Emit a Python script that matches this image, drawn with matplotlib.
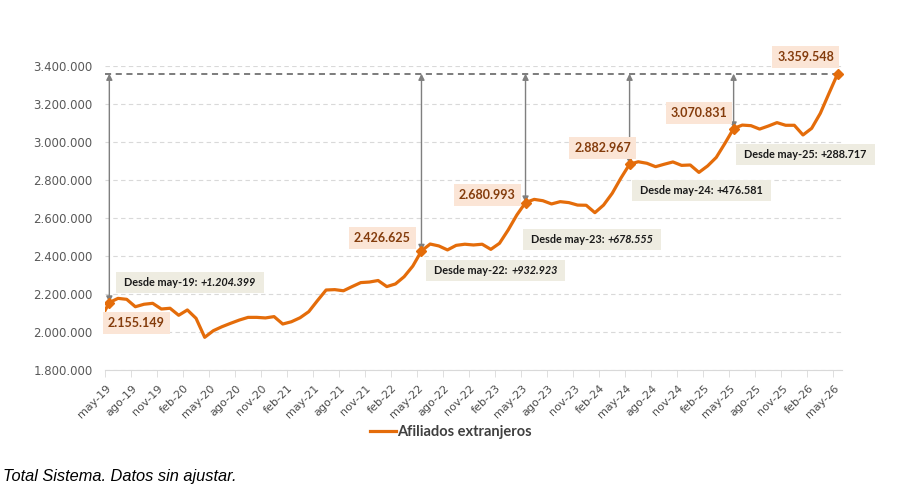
import numpy as np
import matplotlib
matplotlib.use("Agg")
import matplotlib.pyplot as plt
from matplotlib.ticker import FuncFormatter, MultipleLocator
from matplotlib.transforms import Bbox
from matplotlib.patches import Rectangle

# afiliados extranjeros (millones), abr-19 .. may-26
valores = [2.070,
           2.155149, 2.177, 2.172, 2.133, 2.146, 2.151, 2.121, 2.125, 2.088, 2.116,
           2.072, 1.972, 2.007, 2.028, 2.046, 2.063, 2.077, 2.077, 2.074, 2.081,
           2.042, 2.054, 2.075, 2.107, 2.165, 2.221, 2.223, 2.217, 2.239, 2.260,
           2.263, 2.271, 2.239, 2.253, 2.291, 2.347, 2.426625, 2.463, 2.453, 2.432,
           2.456, 2.462, 2.458, 2.462, 2.435, 2.467, 2.537, 2.616, 2.680993, 2.698,
           2.691, 2.674, 2.686, 2.681, 2.668, 2.667, 2.628, 2.668, 2.730, 2.810,
           2.882967, 2.896, 2.888, 2.870, 2.883, 2.895, 2.877, 2.879, 2.840, 2.874,
           2.919, 2.993, 3.070831, 3.089, 3.086, 3.068, 3.084, 3.102, 3.088, 3.088,
           3.037, 3.072, 3.151, 3.256, 3.359548]
meses = np.arange(-1, len(valores) - 1)   # 0 = may-19

etiquetas_x = ['may-19', 'ago-19', 'nov-19', 'feb-20', 'may-20', 'ago-20', 'nov-20',
               'feb-21', 'may-21', 'ago-21', 'nov-21', 'feb-22', 'may-22', 'ago-22',
               'nov-22', 'feb-23', 'may-23', 'ago-23', 'nov-23', 'feb-24', 'may-24',
               'ago-24', 'nov-24', 'feb-25', 'may-25', 'ago-25', 'nov-25', 'feb-26',
               'may-26']

# puntos destacados (indice de mes, valor, etiqueta)
hitos_mes = [0, 36, 48, 60, 72]
hitos_val = [2.155149, 2.426625, 2.680993, 2.882967, 3.070831]
hitos_txt = ['2.155.149', '2.426.625', '2.680.993', '2.882.967', '3.070.831']
desde_txt = ['Desde may-19:', 'Desde may-22:', 'Desde may-23:', 'Desde may-24:', 'Desde may-25:']
desde_dif = ['+1.204.399', '+932.923', '+678.555', '+476.581', '+288.717']
desde_cursiva = [True, True, True, False, False]
final_txt = '3.359.548'

# posiciones de las cajas (mes, valor)
pos_valor = [(3.1, 2.047), (31.5, 2.495), (43.6, 2.721), (56.9, 2.968), (68.0, 3.153)]
pos_desde = [(1.7, 2.258), (37.5, 2.326), (48.6, 2.489), (61.2, 2.747), (73.2, 2.932)]
pos_final = (80.3, 3.447)

naranja = '#E46C0A'
gris = '#7F7F7F'
marron = '#843C0C'
fuente = ['Lato', 'DejaVu Sans']

fig = plt.figure(figsize=(9.16, 4.95), dpi=100)
ax = fig.add_axes([105 / 916, 1 - 370 / 495, 737 / 916, 304 / 495])

ax.plot(meses, valores, color=naranja, lw=2.3, solid_joinstyle='round', zorder=3)

ax.set_xlim(-0.5, 84.5)
ax.set_ylim(1.8, 3.4)
ax.yaxis.set_major_locator(MultipleLocator(0.2))
ax.yaxis.set_major_formatter(FuncFormatter(lambda v, p: f"{v * 1e6:,.0f}".replace(',', '.')))
ax.yaxis.grid(True, ls=(0, (4, 3)), color='#D9D9D9', lw=0.8)
ax.set_axisbelow(True)
for s in ['top', 'right', 'left']:
    ax.spines[s].set_visible(False)
ax.spines['bottom'].set_color('#D9D9D9')

ax.set_xticks(np.arange(0, 85, 3))
ax.set_xticklabels(etiquetas_x)
ax.set_xticks(np.arange(-0.5, 85, 3), minor=True)
ax.tick_params(axis='x', which='major', length=0, pad=12, labelsize=8, labelcolor='#4D4D4D')
ax.tick_params(axis='x', which='minor', length=5, color='#D9D9D9')
ax.tick_params(axis='y', length=0, pad=9, labelsize=8.5, labelcolor='#595959')
plt.setp(ax.get_xticklabels(), rotation=45, ha='right', va='center', rotation_mode='anchor')

# linea horizontal del ultimo valor
ultimo = valores[-1]
ax.hlines(ultimo, -0.5, meses[-1], colors='#595959', linestyles=(0, (4, 3)), lw=1.1, zorder=2)

caja_valor = dict(boxstyle='square,pad=0.4', fc='#FBE5D6', ec='none')

pares = []
for k in range(len(hitos_mes)):
    m, v = hitos_mes[k], hitos_val[k]
    ax.annotate('', xy=(m, ultimo), xytext=(m, v),
                arrowprops=dict(arrowstyle='<|-|>', color=gris, lw=1, shrinkA=0, shrinkB=0,
                                mutation_scale=9), zorder=4)
    ax.plot(m, v, marker='D', ms=5, color=naranja, zorder=5)
    ax.text(pos_valor[k][0], pos_valor[k][1], hitos_txt[k], ha='center', va='center',
            fontsize=9, fontweight='bold', color=marron, family=fuente, bbox=caja_valor, zorder=6)
    t1 = ax.text(pos_desde[k][0], pos_desde[k][1], desde_txt[k], ha='left', va='center',
                 fontsize=7.8, fontweight='bold', color='#1A1A1A', family=fuente, zorder=7)
    t2 = ax.annotate(desde_dif[k], xy=(1, 0), xycoords=t1, xytext=(2.3, 0),
                     textcoords='offset points', ha='left', va='bottom', fontsize=7.8,
                     fontweight='bold', style='italic' if desde_cursiva[k] else 'normal',
                     color='#1A1A1A', family=fuente, zorder=7)
    pares.append((t1, t2))

ax.plot(meses[-1], ultimo, marker='D', ms=5, color=naranja, zorder=5, clip_on=False)
ax.text(pos_final[0], pos_final[1], final_txt, ha='center', va='center', fontsize=9,
        fontweight='bold', color=marron, family=fuente, bbox=caja_valor, zorder=6, clip_on=False)

# cajas de fondo para los textos "Desde ..."
fig.canvas.draw()
r = fig.canvas.get_renderer()
inv = ax.transData.inverted()
for t1, t2 in pares:
    bb = Bbox.union([t1.get_window_extent(r), t2.get_window_extent(r)])
    (x0, y0), (x1, y1) = inv.transform([(bb.x0 - 8, bb.y0 - 5), (bb.x1 + 8, bb.y1 + 5)])
    ax.add_patch(Rectangle((x0, y0), x1 - x0, y1 - y0, fc='#EEECE1', ec='none', zorder=6,
                           clip_on=False))

# leyenda
ax.plot([], [], color=naranja, lw=2.3, label='Afiliados extranjeros')
leg = fig.legend(loc='center', bbox_to_anchor=(0.492, 0.127), frameon=False,
                 handlelength=1.8, handletextpad=0.1,
                 prop={'family': fuente, 'weight': 'bold', 'size': 10.5})
for t in leg.get_texts():
    t.set_color('#404040')

fig.text(0.003, 1 - 477 / 495, 'Total Sistema. Datos sin ajustar.', style='italic',
         family='Liberation Sans', fontsize=11.8, va='center', ha='left')

fig.savefig('out.png', dpi=100)
